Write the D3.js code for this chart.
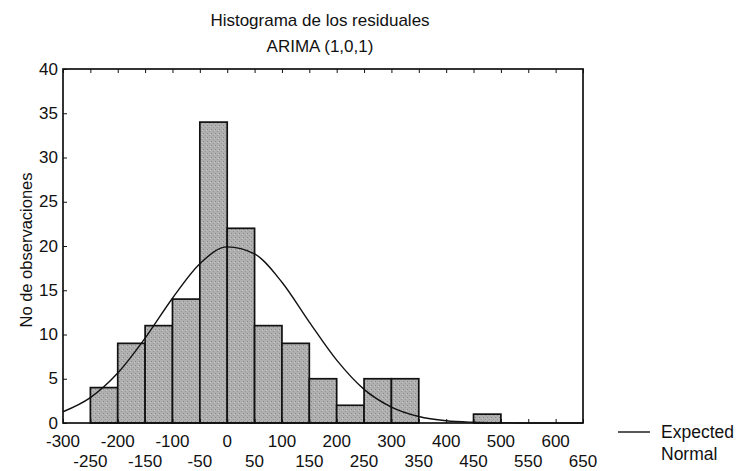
<!DOCTYPE html>
<html>
<head>
<meta charset="utf-8">
<script src="https://cdn.jsdelivr.net/npm/d3@7"></script>
<style>
  body { margin: 0; background: #fff; }
  text { font-family: "Liberation Sans", Arial, sans-serif; fill: #111; }
</style>
</head>
<body>
<div id="chart"></div>
<script>
// histogram bins (lower edge, width 50) and counts
const binStarts = [-250, -200, -150, -100, -50, 0, 50, 100, 150, 200, 250, 300, 350, 400, 450];
const counts = [4, 9, 11, 14, 34, 22, 11, 9, 5, 2, 5, 5, 0, 0, 1];
const binWidth = 50;

// expected normal curve
const curveX = [-300, -250, -200, -150, -100, -50, 0, 50, 100, 150, 200, 250, 300, 350, 400, 450, 500, 550, 600, 650];
const curveY = [1.27, 2.87, 5.64, 9.59, 14.1, 18.0, 19.9, 19.1, 15.9, 11.4, 7.1, 3.8, 1.8, 0.73, 0.25, 0.08, 0.02, 0, 0, 0];

const xTicksTop = [-300, -200, -100, 0, 100, 200, 300, 400, 500, 600];
const xTicksBottom = [-250, -150, -50, 50, 150, 250, 350, 450, 550, 650];
const yTicks = [0, 5, 10, 15, 20, 25, 30, 35, 40];

const width = 737, height = 471;
const margin = {top: 69, right: 154, bottom: 48, left: 63};
const cw = width - margin.left - margin.right;
const ch = height - margin.top - margin.bottom;
const fs = '17px';

const svg = d3.select('#chart').append('svg').attr('width', width).attr('height', height);

const defs = svg.append('defs');
const pat = defs.append('pattern')
  .attr('id', 'stipple').attr('patternUnits', 'userSpaceOnUse')
  .attr('width', 4).attr('height', 4);
pat.append('rect').attr('width', 4).attr('height', 4).attr('fill', '#b0b0b0');
pat.append('rect').attr('x', 0).attr('y', 0).attr('width', 1).attr('height', 1).attr('fill', '#888');
pat.append('rect').attr('x', 2).attr('y', 2).attr('width', 1).attr('height', 1).attr('fill', '#969696');
pat.append('rect').attr('x', 3).attr('y', 1).attr('width', 1).attr('height', 1).attr('fill', '#c6c6c6');

const x = d3.scaleLinear().domain([-300, 650]).range([0, cw]);
const y = d3.scaleLinear().domain([0, 40]).range([ch, 0]);

const g = svg.append('g').attr('transform', `translate(${margin.left}, ${margin.top})`);

// bars
g.selectAll('rect.bar')
  .data(binStarts.map((b, i) => ({x0: b, n: counts[i]})).filter(d => d.n > 0))
  .join('rect')
  .attr('class', 'bar')
  .attr('x', d => x(d.x0))
  .attr('y', d => y(d.n))
  .attr('width', d => x(d.x0 + binWidth) - x(d.x0))
  .attr('height', d => ch - y(d.n))
  .attr('fill', 'url(#stipple)')
  .attr('stroke', '#111')
  .attr('stroke-width', 1.7);

// normal curve
const line = d3.line().x(d => x(d[0])).y(d => y(d[1])).curve(d3.curveMonotoneX);
g.append('path')
  .datum(curveX.map((v, i) => [v, curveY[i]]))
  .attr('d', line)
  .attr('fill', 'none')
  .attr('stroke', '#111')
  .attr('stroke-width', 1.4);

// frame
g.append('rect')
  .attr('width', cw).attr('height', ch)
  .attr('fill', 'none').attr('stroke', '#111').attr('stroke-width', 1.7);

// axes
const xAll = xTicksTop.concat(xTicksBottom).sort(d3.ascending);
const xAxisB = d3.axisBottom(x).tickValues(xAll).tickSize(-4).tickFormat('');
g.append('g').attr('transform', `translate(0, ${ch})`).call(xAxisB)
  .call(a => a.select('.domain').remove())
  .selectAll('line').attr('stroke', '#111');
const xAxisT = d3.axisTop(x).tickValues(xAll).tickSize(-4).tickFormat('');
g.append('g').call(xAxisT)
  .call(a => a.select('.domain').remove())
  .selectAll('line').attr('stroke', '#111');

const yAxis = d3.axisLeft(y).tickValues(yTicks).tickSize(-4).tickPadding(5);
g.append('g').call(yAxis)
  .call(a => a.select('.domain').remove())
  .call(a => a.selectAll('line').attr('stroke', '#111'))
  .selectAll('text')
  .style('font-size', fs)
  .style('font-family', '"Liberation Sans", Arial, sans-serif')
  .attr('fill', '#111')
  .attr('dy', '0.3em');

// x labels in two staggered rows
g.selectAll('text.xt')
  .data(xTicksTop)
  .join('text')
  .attr('class', 'xt')
  .attr('x', d => x(d))
  .attr('y', ch + 24)
  .attr('text-anchor', 'middle')
  .style('font-size', fs)
  .text(d => d);
g.selectAll('text.xb')
  .data(xTicksBottom)
  .join('text')
  .attr('class', 'xb')
  .attr('x', d => x(d))
  .attr('y', ch + 44)
  .attr('text-anchor', 'middle')
  .style('font-size', fs)
  .text(d => d);

// titles
svg.append('text')
  .attr('x', 320).attr('y', 26)
  .attr('text-anchor', 'middle')
  .style('font-size', fs)
  .text('Histograma de los residuales');
svg.append('text')
  .attr('x', 320).attr('y', 52)
  .attr('text-anchor', 'middle')
  .style('font-size', fs)
  .text('ARIMA (1,0,1)');

svg.append('text')
  .attr('transform', `translate(32, ${margin.top + ch / 2 + 4}) rotate(-90)`)
  .attr('text-anchor', 'middle')
  .style('font-size', '16.5px')
  .text('No de observaciones');

// legend
const lg = svg.append('g').attr('transform', 'translate(618, 432)');
lg.append('line').attr('x1', 0).attr('x2', 32).attr('y1', 0).attr('y2', 0)
  .attr('stroke', '#111').attr('stroke-width', 1.4);
lg.append('text').attr('x', 43).attr('y', 6).style('font-size', '17.5px').text('Expected');
lg.append('text').attr('x', 43).attr('y', 28).style('font-size', '17.5px').text('Normal');
</script>
</body>
</html>
